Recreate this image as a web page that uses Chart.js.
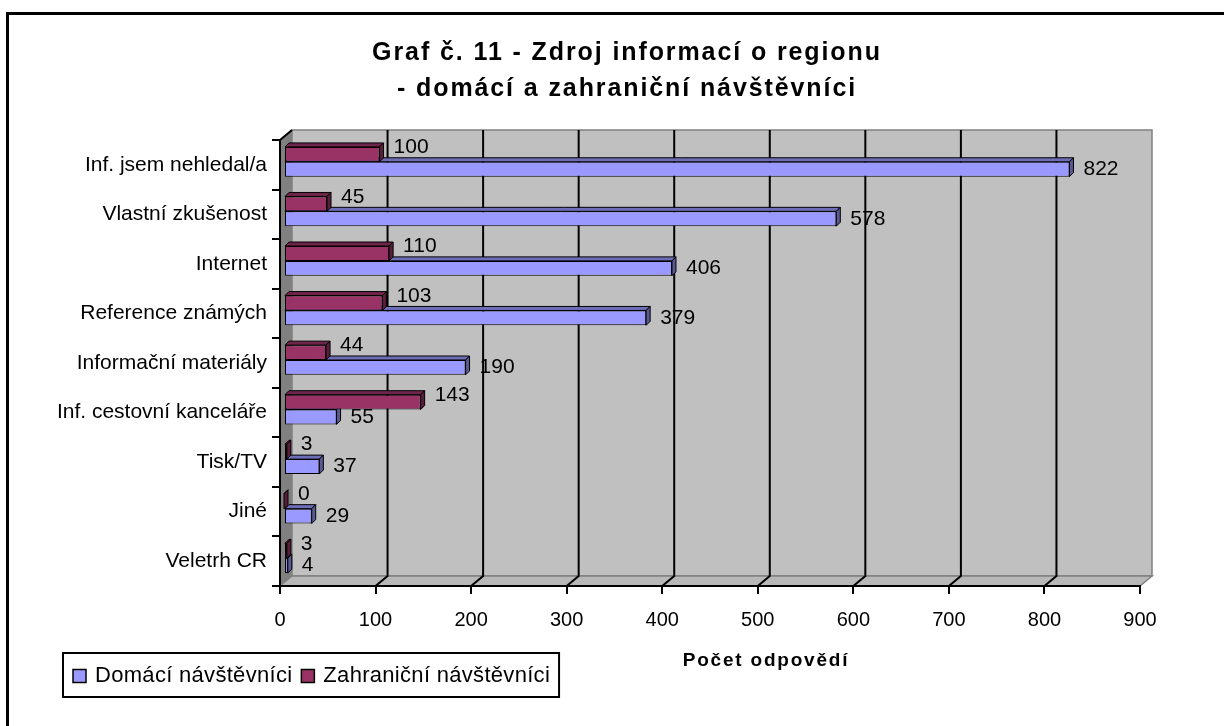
<!DOCTYPE html>
<html><head><meta charset="utf-8">
<script src="https://cdn.jsdelivr.net/npm/chart.js@4.4.1/dist/chart.umd.min.js"></script>
<style>html,body{margin:0;padding:0;background:#fff;}#wrap{position:relative;width:1224px;height:726px;}</style>
</head><body><div id="wrap"><canvas id="c" width="1224" height="726"></canvas></div>
<script>
const categories = ["Inf. jsem nehledal/a","Vlastní zkušenost","Internet","Reference známých","Informační materiály","Inf. cestovní kanceláře","Tisk/TV","Jiné","Veletrh CR"];
const domaci = [822,578,406,379,190,55,37,29,4];
const zahranicni = [100,45,110,103,44,143,3,0,3];
const xTicks = [0,100,200,300,400,500,600,700,800,900];
const seriesNames = ["Domácí návštěvníci","Zahraniční návštěvníci"];
const seriesColors = ["#9999FF","#993366"];
const titleLines = ["Graf č. 11 - Zdroj informací o regionu","- domácí a zahraniční návštěvníci"];
const xAxisTitle = "Počet odpovědí";

const FONT = "'Liberation Sans', Arial, sans-serif";
Chart.defaults.font.family = FONT;
const WALL = {dx: 12, dy: -10};
const BAR = {fx: 4, fy: -3, dx: 4, dy: -4};

function shade(hex, f){
  const n = parseInt(hex.slice(1),16);
  const r = Math.round(((n>>16)&255)*f), g = Math.round(((n>>8)&255)*f), b = Math.round((n&255)*f);
  return `rgb(${r},${g},${b})`;
}

const wallsPlugin = {
  id:'walls',
  beforeDraw(chart){
    const {ctx, chartArea:a, scales:{x}} = chart;
    const L = x.getPixelForValue(xTicks[0]), R = x.getPixelForValue(xTicks[xTicks.length-1]);
    ctx.save();
    ctx.fillStyle = '#C0C0C0';
    ctx.fillRect(L+WALL.dx, a.top+WALL.dy, R-L, a.bottom-a.top);
    ctx.strokeStyle = '#808080'; ctx.lineWidth = 1.5;
    ctx.strokeRect(L+WALL.dx, a.top+WALL.dy, R-L, a.bottom-a.top);
    ctx.beginPath();
    ctx.moveTo(L, a.top); ctx.lineTo(L+WALL.dx, a.top+WALL.dy);
    ctx.lineTo(L+WALL.dx, a.bottom+WALL.dy); ctx.lineTo(L, a.bottom); ctx.closePath();
    ctx.fillStyle = '#808080'; ctx.fill();
    ctx.beginPath();
    ctx.moveTo(L, a.bottom); ctx.lineTo(L+WALL.dx, a.bottom+WALL.dy);
    ctx.lineTo(R+WALL.dx, a.bottom+WALL.dy); ctx.lineTo(R, a.bottom); ctx.closePath();
    ctx.fillStyle = '#B8B8B8'; ctx.fill();
    ctx.strokeStyle = '#808080'; ctx.lineWidth = 1.5; ctx.stroke();
    ctx.strokeStyle = '#000'; ctx.lineWidth = 2;
    xTicks.forEach((v,i)=>{
      if (i===0 || i===xTicks.length-1) return;
      const px = x.getPixelForValue(v);
      ctx.beginPath();
      ctx.moveTo(px+WALL.dx, a.top+WALL.dy);
      ctx.lineTo(px+WALL.dx, a.bottom+WALL.dy);
      ctx.lineTo(px, a.bottom);
      ctx.stroke();
    });
    ctx.beginPath(); ctx.moveTo(L, a.top); ctx.lineTo(L+WALL.dx, a.top+WALL.dy); ctx.stroke();
    ctx.restore();
  }
};

const bars3dPlugin = {
  id:'bars3d',
  beforeDatasetDraw(chart, args){
    const ctx = chart.ctx;
    ctx.save();
    ctx.translate(BAR.fx, BAR.fy);
    const ds = chart.data.datasets[args.index];
    args.meta.data.forEach(el=>{
      const p = el.getProps(['x','y','base','height'], true);
      const l = Math.min(p.x,p.base), r = Math.max(p.x,p.base);
      const t = p.y - p.height/2, b = p.y + p.height/2;
      ctx.lineWidth = 1; ctx.strokeStyle = '#000';
      ctx.beginPath();
      ctx.moveTo(l,t); ctx.lineTo(l+BAR.dx,t+BAR.dy); ctx.lineTo(r+BAR.dx,t+BAR.dy); ctx.lineTo(r,t); ctx.closePath();
      ctx.fillStyle = shade(ds.backgroundColor, 0.72); ctx.fill(); ctx.stroke();
      ctx.beginPath();
      ctx.moveTo(r,t); ctx.lineTo(r+BAR.dx,t+BAR.dy); ctx.lineTo(r+BAR.dx,b+BAR.dy); ctx.lineTo(r,b); ctx.closePath();
      ctx.fillStyle = shade(ds.backgroundColor, 0.58); ctx.fill(); ctx.stroke();
    });
  },
  afterDatasetDraw(chart){ chart.ctx.restore(); },
  afterDatasetsDraw(chart){
    const ctx = chart.ctx;
    ctx.save();
    ctx.translate(BAR.fx, BAR.fy);
    ctx.fillStyle = '#000';
    ctx.font = `21px ${FONT}`;
    ctx.textAlign = 'left'; ctx.textBaseline = 'middle';
    chart.data.datasets.forEach((ds,di)=>{
      const meta = chart.getDatasetMeta(di);
      const dy = di === 0 ? -7 : 0;
      meta.data.forEach((el,i)=>{
        const p = el.getProps(['x','y','base'], true);
        const r = Math.max(p.x,p.base);
        ctx.fillText(String(ds.data[i]), r + 14, p.y + dy);
      });
    });
    ctx.restore();
  }
};

const decorPlugin = {
  id:'decor',
  afterDraw(chart){
    const ctx = chart.ctx;
    ctx.save();
    ctx.fillStyle = '#000';
    ctx.fillRect(6, 12, 3, 726-12);
    ctx.fillRect(6, 12, 1224-6, 3);
    ctx.font = `bold 25px ${FONT}`;
    try { ctx.letterSpacing = '1.9px'; } catch(e) {}
    ctx.textAlign = 'center'; ctx.textBaseline = 'middle';
    ctx.fillText(titleLines[0], 627, 53);
    ctx.fillText(titleLines[1], 627, 89);
    ctx.font = `bold 19px ${FONT}`;
    try { ctx.letterSpacing = '1.8px'; } catch(e) {}
    ctx.fillText(xAxisTitle, 766, 661);
    try { ctx.letterSpacing = '0.3px'; } catch(e) {}
    ctx.font = `22px ${FONT}`;
    ctx.textAlign = 'left';
    const boxL = 63, boxT = 653, boxH = 44, cy = 676;
    let xx = boxL + 10;
    seriesNames.forEach((name,i)=>{
      ctx.fillStyle = seriesColors[i];
      ctx.fillRect(xx, cy-6.5, 13, 13);
      ctx.strokeStyle = '#000'; ctx.lineWidth = 1.5;
      ctx.strokeRect(xx, cy-6.5, 13, 13);
      ctx.fillStyle = '#000';
      ctx.fillText(name, xx + 22, cy);
      xx = xx + 22 + ctx.measureText(name).width + 9;
    });
    ctx.strokeStyle = '#000'; ctx.lineWidth = 2;
    ctx.strokeRect(boxL, boxT, xx - boxL, boxH);
    ctx.restore();
  }
};

new Chart(document.getElementById('c'), {
  type:'bar',
  data:{
    labels: categories,
    datasets:[
      {label: seriesNames[1], data: zahranicni, backgroundColor: seriesColors[1], borderColor:'#000', borderWidth:1, borderSkipped:false, clip:false},
      {label: seriesNames[0], data: domaci, backgroundColor: seriesColors[0], borderColor:'#000', borderWidth:1, borderSkipped:false, clip:false}
    ]
  },
  options:{
    indexAxis:'y', responsive:false, animation:false, devicePixelRatio:1,
    layout:{padding:{left:0, top:140, right:84, bottom:0}},
    datasets:{bar:{categoryPercentage:0.6, barPercentage:1.0}},
    scales:{
      x:{
        min:0, max:900,
        afterBuildTicks(s){ s.ticks = xTicks.map(v=>({value:v})); },
        ticks:{color:'#000', font:{size:20}, padding:14, maxRotation:0},
        grid:{drawOnChartArea:false, drawTicks:true, tickLength:8, color:'#000', lineWidth:2},
        border:{display:true, color:'#000', width:2},
        afterFit(s){ s.height = 140; }
      },
      y:{
        ticks:{color:'#000', font:{size:21}, padding:5},
        grid:{drawOnChartArea:false, drawTicks:true, tickLength:8, color:'#000', lineWidth:2, offset:true},
        border:{display:true, color:'#000', width:2},
        afterFit(s){ s.width = 280; }
      }
    },
    plugins:{legend:{display:false}, title:{display:false}, tooltip:{enabled:false}}
  },
  plugins:[wallsPlugin, bars3dPlugin, decorPlugin]
});
</script></body></html>
